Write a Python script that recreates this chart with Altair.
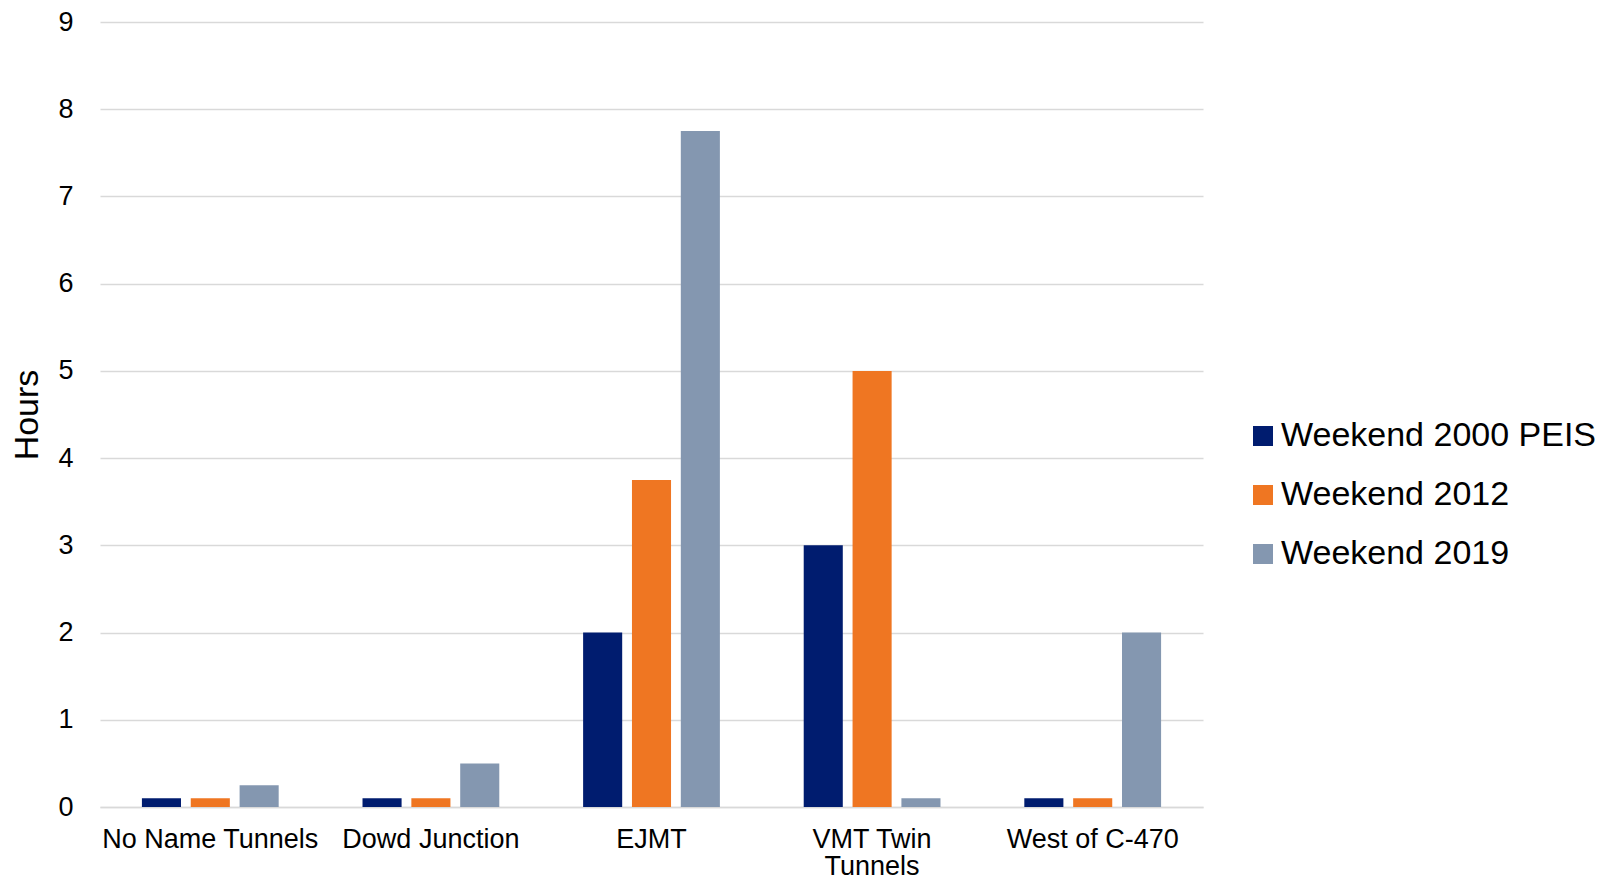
import altair as alt
import pandas as pd

locations = ["No Name Tunnels", "Dowd Junction", "EJMT", "VMT Twin Tunnels", "West of C-470"]
series = ["Weekend 2000 PEIS", "Weekend 2012", "Weekend 2019"]
weekend_2000 = [0.1, 0.1, 2.0, 3.0, 0.1]
weekend_2012 = [0.1, 0.1, 3.75, 5.0, 0.1]
weekend_2019 = [0.25, 0.5, 7.75, 0.1, 2.0]
colors = ["#001C6F", "#EF7622", "#8497B0"]
y_ticks = [0, 1, 2, 3, 4, 5, 6, 7, 8, 9]

rows = []
for s, vals in zip(series, [weekend_2000, weekend_2012, weekend_2019]):
    for loc, v in zip(locations, vals):
        rows.append({"Location": loc, "Series": s, "Hours": v})
df = pd.DataFrame(rows)

FONT = "Liberation Sans"

chart = alt.Chart(df).mark_bar().encode(
    x=alt.X("Location:N", sort=locations,
            scale=alt.Scale(paddingInner=0.38, paddingOuter=0.19),
            axis=alt.Axis(title=None, labelAngle=0, labelFontSize=27, labelFont=FONT,
                          labelColor="#000000", labelPadding=19, labelLineHeight=27,
                          ticks=False, domainColor="#D9D9D9", domainWidth=1.5,
                          labelLimit=400,
                          labelExpr="datum.value == 'VMT Twin Tunnels' ? ['VMT Twin', 'Tunnels'] : datum.value")),
    xOffset=alt.XOffset("Series:N", sort=series,
                        scale=alt.Scale(paddingInner=0.2, paddingOuter=0)),
    y=alt.Y("Hours:Q", scale=alt.Scale(domain=[0, 9], nice=False),
            axis=alt.Axis(title="Hours", values=y_ticks, titleFontSize=34, titleFont=FONT,
                          titleFontWeight="normal", titleColor="#000000", titlePadding=13,
                          labelFontSize=27, labelFont=FONT, labelColor="#000000",
                          labelPadding=27, ticks=False, domain=False,
                          gridColor="#D9D9D9", gridWidth=1.5)),
    color=alt.Color("Series:N", sort=series,
                    scale=alt.Scale(domain=series, range=colors),
                    legend=alt.Legend(title=None, orient="none", legendX=1146, legendY=397,
                                      symbolType="square", symbolSize=400, symbolStrokeWidth=0,
                                      labelFontSize=34, labelFont=FONT, labelColor="#000000",
                                      labelOffset=1, rowPadding=25, labelLimit=500)),
).properties(
    width=1103, height=785,
    autosize=alt.AutoSizeParams(type="none"),
    padding={"left": 92, "top": 14, "right": 403, "bottom": 73},
).configure_view(stroke=None)

chart.save("out.html", embed_options={"renderer": "svg", "actions": False})
